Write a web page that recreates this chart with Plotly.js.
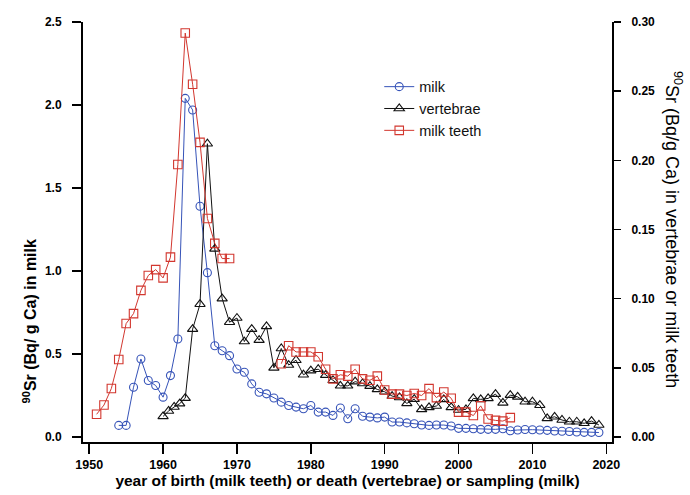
<!DOCTYPE html>
<html>
<head>
<meta charset="utf-8">
<script src="https://cdn.plot.ly/plotly-3.0.1.min.js"></script>
<style>html,body{margin:0;padding:0;background:#fff}#chart{width:690px;height:495px}</style>
</head>
<body>
<div id="chart"></div>
<script>
// ---- data ----
const milkYears = [1954,1955,1956,1957,1958,1959,1960,1961,1962,1963,1964,1965,1966,1967,1968,1969,1970,1971,1972,1973,1974,1975,1976,1977,1978,1979,1980,1981,1982,1983,1984,1985,1986,1987,1988,1989,1990,1991,1992,1993,1994,1995,1996,1997,1998,1999,2000,2001,2002,2003,2004,2005,2006,2007,2008,2009,2010,2011,2012,2013,2014,2015,2016,2017,2018,2019];
const milkValues = [0.07,0.07,0.30,0.47,0.34,0.31,0.24,0.37,0.59,2.04,1.97,1.39,0.99,0.55,0.52,0.49,0.41,0.39,0.32,0.27,0.26,0.235,0.21,0.19,0.18,0.17,0.19,0.15,0.15,0.13,0.175,0.11,0.17,0.125,0.12,0.115,0.12,0.09,0.09,0.085,0.08,0.072,0.07,0.072,0.072,0.066,0.052,0.052,0.05,0.046,0.046,0.046,0.05,0.038,0.042,0.045,0.044,0.042,0.04,0.036,0.035,0.033,0.03,0.028,0.028,0.027];

const vertYears = [1960,1960.75,1961.5,1962.25,1963,1964,1965,1966,1967,1968,1969,1970,1971,1972,1973,1974,1975,1976,1977,1978,1979,1980,1981,1982,1983,1984,1985,1986,1987,1988,1989,1990,1991,1992,1993,1994,1995,1996,1997,1998,1999,2000,2001,2002,2003,2004,2005,2006,2007,2008,2009,2010,2011,2012,2013,2014,2015,2016,2017,2018,2019];
const vertValues = [0.0149,0.0188,0.0217,0.0241,0.0281,0.078,0.096,0.212,0.136,0.100,0.083,0.086,0.069,0.078,0.070,0.080,0.050,0.064,0.052,0.0555,0.045,0.048,0.049,0.0447,0.041,0.037,0.037,0.040,0.0387,0.0368,0.0344,0.0327,0.0296,0.0286,0.0243,0.0274,0.020,0.0214,0.0224,0.0272,0.0214,0.0195,0.020,0.0279,0.0272,0.0279,0.031,0.0247,0.0303,0.029,0.0255,0.0255,0.023,0.0135,0.0146,0.0123,0.011,0.011,0.0099,0.0115,0.0087];

const teethYears = [1951,1952,1953,1954,1955,1956,1957,1958,1959,1960,1961,1962,1963,1964,1965,1966,1967,1968,1969,1970,1976,1977,1978,1979,1980,1981,1982,1983,1984,1985,1986,1987,1988,1989,1990,1991,1992,1993,1994,1995,1996,1997,1998,1999,2000,2001,2002,2003,2004,2005,2006,2007];
const teethValues = [0.0164,0.0231,0.0351,0.056,0.082,0.0892,0.106,0.1168,0.121,0.115,0.130,0.197,0.292,0.255,0.213,0.158,0.140,0.129,0.129,null,0.053,0.066,0.0615,0.0615,0.0615,0.058,0.049,0.042,0.045,0.044,0.049,0.042,0.041,0.044,0.034,0.031,0.031,0.030,0.0315,0.030,0.035,0.0285,0.0325,0.028,0.018,0.018,0.0155,0.0225,0.013,0.012,0.0115,0.014];

const xTicks = [1950,1960,1970,1980,1990,2000,2010,2020];
const yLeftTicks = [0,0.5,1.0,1.5,2.0,2.5];
const yLeftLabels = ["0.0","0.5","1.0","1.5","2.0","2.5"];
const yRightTicks = [0,0.05,0.10,0.15,0.20,0.25,0.30];
const yRightLabels = ["0.00","0.05","0.10","0.15","0.20","0.25","0.30"];

const FONT = "Arial, 'Liberation Sans', sans-serif";
const BLUE = "#3653b8", RED = "#d2372f", BLACK = "#111111";

const traces = [
  {x: milkYears, y: milkValues, name: "milk", type: "scatter", mode: "lines+markers",
   line: {color: BLUE, width: 1}, marker: {symbol: "circle-open", size: 8, color: BLUE, line: {width: 1.1}},
   yaxis: "y", legendgroup: "a"},
  {x: vertYears, y: vertValues, name: "vertebrae", type: "scatter", mode: "lines+markers",
   line: {color: BLACK, width: 1}, marker: {symbol: "triangle-up-open", size: 9, color: BLACK, line: {width: 1.1}},
   yaxis: "y2", legendgroup: "b"},
  {x: teethYears, y: teethValues, name: "milk teeth", type: "scatter", mode: "lines+markers",
   line: {color: RED, width: 1}, marker: {symbol: "square-open", size: 8.5, color: RED, line: {width: 1.1}},
   yaxis: "y2", legendgroup: "c", connectgaps: false}
];

const layout = {
  width: 690, height: 495,
  margin: {l: 83, r: 78, t: 22, b: 53},
  paper_bgcolor: "#fff", plot_bgcolor: "#fff",
  font: {family: FONT, color: "#000"},
  showlegend: true,
  legend: {x: 0.56, y: 0.884, xanchor: "left", yanchor: "top", bgcolor: "rgba(0,0,0,0)",
           font: {size: 14.5, family: FONT, color: "#111"}, tracegroupgap: 0},
  xaxis: {range: [1949.16, 2020.77], tickvals: xTicks, ticktext: xTicks.map(String),
          showgrid: false, zeroline: false, showline: true, linecolor: "#000", linewidth: 2,
          ticks: "outside", ticklen: 10, tickwidth: 1.5, tickcolor: "#000",
          tickfont: {size: 12.5, family: FONT, weight: "bold"},
          title: {text: "year of birth (milk teeth) or death (vertebrae) or sampling (milk)",
                  font: {size: 15.5, family: FONT, weight: "bold"}, standoff: 4}},
  yaxis: {range: [-0.0301, 2.5], tickvals: yLeftTicks, ticktext: yLeftLabels,
          showgrid: false, zeroline: false, showline: true, linecolor: "#000", linewidth: 2,
          ticks: "outside", ticklen: 9, tickwidth: 1.5, tickcolor: "#000",
          tickfont: {size: 12, family: FONT, weight: "bold"}, ticklabelstandoff: 8},
  yaxis2: {range: [-0.003614, 0.30], overlaying: "y", side: "right", tickvals: yRightTicks, ticktext: yRightLabels,
           showgrid: false, zeroline: false, showline: true, linecolor: "#000", linewidth: 2,
           ticks: "outside", ticklen: 7, tickwidth: 1.5, tickcolor: "#000",
           tickfont: {size: 12, family: FONT, weight: "bold"}, ticklabelstandoff: 8},
  annotations: [
    {xref: "paper", yref: "paper", x: -0.1, y: 0.287, xanchor: "center", yanchor: "middle",
     textangle: -90, showarrow: false,
     text: "<b><sup>90</sup>Sr (Bq/ g Ca) in milk</b>", font: {size: 16, family: FONT, color: "#000"}},
    {xref: "paper", yref: "paper", x: 1.115, y: 0.505, xanchor: "center", yanchor: "middle",
     textangle: 90, showarrow: false,
     text: "<sup>90</sup>Sr (Bq/g Ca) in vertebrae or milk teeth", font: {size: 18, family: FONT, color: "#000"}}
  ]
};

Plotly.newPlot("chart", traces, layout, {displayModeBar: false, staticPlot: true});
</script>
</body>
</html>
